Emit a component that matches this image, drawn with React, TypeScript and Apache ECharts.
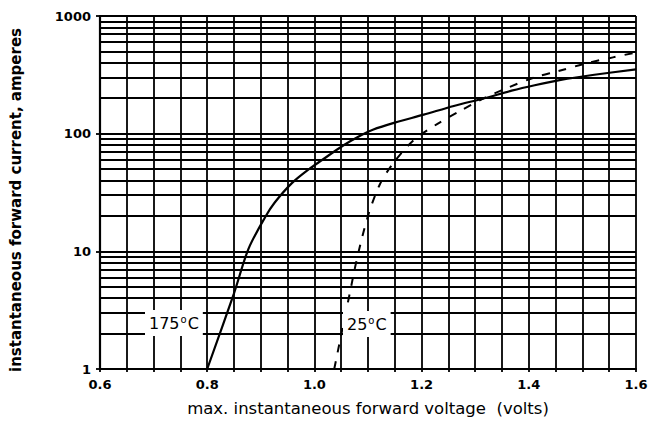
import React, { useEffect, useRef } from "react";
import * as echarts from "echarts";

// 175 °C curve (solid)
const voltage175 = [0.8, 0.85, 0.877, 0.908, 0.926, 0.958, 0.99, 1.015, 1.053, 1.087, 1.109, 1.15, 1.204, 1.26, 1.317, 1.368, 1.411, 1.462, 1.519, 1.6];
const current175 = [1, 4.4, 10.5, 19.5, 26, 38, 50, 60, 79, 97, 108, 124, 145, 172, 200, 232, 258, 288, 315, 352];

// 25 °C curve (dashed)
const voltage25 = [1.037, 1.05, 1.066, 1.08, 1.1, 1.122, 1.147, 1.185, 1.228, 1.274, 1.311, 1.36, 1.41, 1.455, 1.506, 1.557, 1.6];
const current25 = [1, 1.95, 4.4, 8.9, 20, 37, 56, 88, 120, 158, 195, 245, 300, 340, 395, 445, 490];

// axis definitions
const xMin = 0.6;
const xMax = 1.6;
const xGridStep = 0.05;
const yMin = 1;
const yMax = 1000;
const minorGridCurrents = [2, 3, 4, 5, 6, 7, 8, 9, 20, 30, 40, 50, 60, 70, 80, 90, 200, 300, 400, 500, 600, 700, 800, 900];

const label175 = "175";
const label25 = "25";
const xTitle = "max. instantaneous forward voltage  (volts)";
const yTitle = "instantaneous forward current, amperes";

export default function App() {
  const ref = useRef<HTMLDivElement>(null);
  useEffect(() => {
    if (!ref.current) return;
    const chart = echarts.init(ref.current, null, { renderer: "svg" });
    const ink = "#000";
    const pairs = (xs: number[], ys: number[]) => xs.map((x, i) => [x, ys[i]]);
    const tempRich = {
      t: { fontFamily: "DejaVu Sans", fontSize: 16, fill: ink, color: ink },
      s: { fontFamily: "DejaVu Sans", fontSize: 10, fill: ink, color: ink, verticalAlign: "top", padding: [0, 1, 8, 1] },
    };
    chart.setOption({
      animation: false,
      backgroundColor: "#fff",
      grid: { left: 100, right: 17, top: 16, bottom: 52, containLabel: false },
      xAxis: {
        type: "value",
        min: xMin,
        max: xMax,
        interval: xGridStep,
        axisLine: { show: true, lineStyle: { color: ink, width: 2 } },
        axisTick: { show: true, length: 3, lineStyle: { color: ink, width: 1.8 } },
        splitLine: { show: true, lineStyle: { color: ink, width: 1.8 } },
        axisLabel: {
          color: ink,
          fontFamily: "DejaVu Sans",
          fontWeight: "bold",
          fontSize: 13,
          margin: 9,
          formatter: (v: number) => {
            const k = v / 0.2;
            return Math.abs(k - Math.round(k)) < 1e-6 ? v.toFixed(1) : "";
          },
        },
        name: xTitle,
        nameLocation: "middle",
        nameGap: 31,
        nameTextStyle: { color: ink, fontFamily: "DejaVu Sans", fontSize: 16.5 },
      },
      yAxis: {
        type: "log",
        logBase: 10,
        min: yMin,
        max: yMax,
        axisLine: { show: true, lineStyle: { color: ink, width: 2.2 } },
        axisTick: { show: true, length: 4, lineStyle: { color: ink, width: 1.8 } },
        splitLine: { show: true, lineStyle: { color: ink, width: 2 } },
        axisLabel: {
          color: ink,
          fontFamily: "DejaVu Sans",
          fontWeight: "bold",
          fontSize: 13,
          margin: 9,
          formatter: (v: number) => String(Math.round(v)),
        },
      },
      series: [
        {
          type: "line",
          data: [],
          silent: true,
          markLine: {
            silent: true,
            symbol: "none",
            label: { show: false },
            lineStyle: { color: ink, width: 1.8, type: "solid" },
            data: minorGridCurrents.map((v) => ({ yAxis: v })),
          },
        },
        {
          type: "line",
          name: "175°C",
          data: pairs(voltage175, current175),
          showSymbol: false,
          smooth: 0.3,
          lineStyle: { color: ink, width: 2.2, type: "solid" },
          z: 5,
        },
        {
          type: "line",
          name: "25°C",
          data: pairs(voltage25, current25),
          showSymbol: false,
          smooth: 0.3,
          lineStyle: { color: ink, width: 2, type: [8, 9] },
          z: 5,
        },
      ],
      graphic: [
        {
          type: "text",
          left: 145,
          top: 310,
          z: 10,
          style: {
            text: "{t|" + label175 + "}{s|o}{t|C}",
            rich: tempRich,
            backgroundColor: "#fff",
            padding: [4, 4, 4, 4],
          },
        },
        {
          type: "text",
          left: 343,
          top: 311,
          z: 10,
          style: {
            text: "{t|" + label25 + "}{s|o}{t|C}",
            rich: tempRich,
            backgroundColor: "#fff",
            padding: [4, 4, 4, 4],
          },
        },
        {
          type: "text",
          x: 16,
          y: 200,
          rotation: Math.PI / 2,
          z: 10,
          style: {
            text: yTitle,
            fill: ink,
            font: "bold 15px 'DejaVu Sans'",
            align: "center",
            verticalAlign: "middle",
          },
        },
      ],
    });
    return () => chart.dispose();
  }, []);
  return (
    <div
      ref={ref}
      style={{ position: "fixed", left: 0, top: 0, width: 653, height: 422, background: "#fff" }}
    />
  );
}
